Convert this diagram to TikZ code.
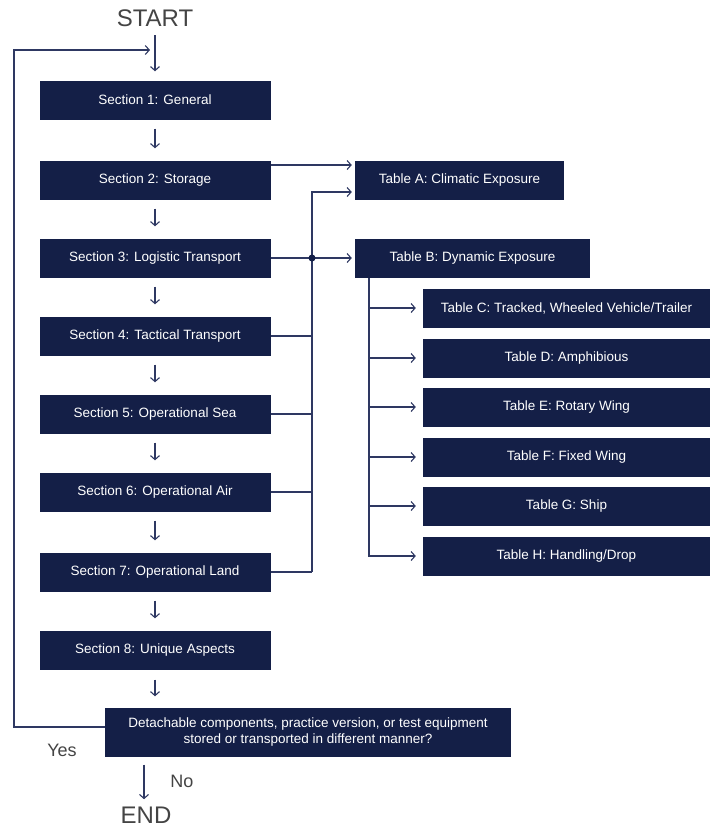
\documentclass[tikz,border=0pt]{standalone}
\usepackage{fontspec}
\setmainfont{Liberation Sans}
\usetikzlibrary{calc,arrows.meta}
\definecolor{navy}{HTML}{141F47}
\definecolor{wire}{HTML}{2E3862}
\definecolor{label}{HTML}{444444}
\tikzset{
  box/.style={fill=navy,text=white,minimum height=39pt,inner sep=2pt,
    font=\fontsize{13.5}{16.5}\selectfont},
  sect/.style={box,minimum width=231pt},
  tbl/.style={box,minimum width=287pt},
  word/.style={text=label,font=\fontsize{18}{21}\selectfont},
  end/.style={text=label,font=\fontsize{24}{28}\selectfont},
  wire/.style={draw=wire,line width=1.1pt},
  flow/.style={wire,-{Straight Barb[length=4pt,width=9pt]}},
}
\begin{document}
\begin{tikzpicture}[x=1pt,y=-1pt]
  \useasboundingbox (0,0) rectangle (716,828);
  \node[end] (start) at (155,18) {START};
  \node[sect] (s1) at (155,100) {Section 1: General};
  \node[sect] (s2) at (155,180) {Section 2: Storage};
  \node[sect] (s3) at (155,258) {Section 3: Logistic Transport};
  \node[sect] (s4) at (155,336) {Section 4: Tactical Transport};
  \node[sect] (s5) at (155,414) {Section 5: Operational Sea};
  \node[sect] (s6) at (155,492) {Section 6: Operational Air};
  \node[sect] (s7) at (155,572) {Section 7: Operational Land};
  \node[sect] (s8) at (155,650) {Section 8: Unique Aspects};
  \node[box,minimum width=406pt,minimum height=49pt,align=center] (dec) at (308,732)
    {Detachable components, practice version, or test equipment\\stored or transported in different manner?};
  \node[end] (stop) at (146,815) {END};
  \node[word] (yes) at (62,750) {Yes};
  \node[word] (no) at (182,781) {No};
  \node[box,minimum width=209pt] (ta) at (459.5,180) {Table A: Climatic Exposure};
  \node[box,minimum width=235pt] (tb) at (472.5,258) {Table B: Dynamic Exposure};
  \node[tbl] (tc) at (566.5,308) {Table C: Tracked, Wheeled Vehicle/Trailer};
  \node[tbl] (td) at (566.5,358) {Table D: Amphibious};
  \node[tbl] (te) at (566.5,407) {Table E: Rotary Wing};
  \node[tbl] (tf) at (566.5,457) {Table F: Fixed Wing};
  \node[tbl] (tg) at (566.5,506) {Table G: Ship};
  \node[tbl] (th) at (566.5,556) {Table H: Handling/Drop};
  \coordinate (jn) at (312,258);
  \coordinate (jtop) at (312,192);
  \coordinate (bt) at (369,278);
  \coordinate (loop) at (14,50);
  % main column
  \draw[flow,shorten <=5pt,shorten >=9pt] (start) -- (s1);
  \foreach \a/\b in {s1/s2,s2/s3,s3/s4,s4/s5,s5/s6,s6/s7,s7/s8}
    \draw[flow,shorten <=9pt,shorten >=12pt] (\a) -- (\b);
  \draw[flow,shorten <=10pt,shorten >=11pt] (s8.south) -- (s8 |- dec.north);
  \draw[flow,shorten <=8pt,shorten >=4pt] ([xshift=-164pt]dec.south) -- ([xshift=-2pt]stop.north);
  % loop back
  \draw[flow] ([yshift=5pt]dec.west) -| (loop) -- ([xshift=-5pt]loop -| start);
  % tables
  \draw[flow] ([yshift=15pt]s2.east) -- ([xshift=-3pt,yshift=15pt]ta.west);
  \draw[flow] (s3.east) -- ([xshift=-3pt]tb.west);
  \foreach \s in {s4,s5,s6,s7}
    \draw[wire] (\s.east) -- (\s.east -| jn);
  \draw[flow] (s7.east -| jn) -- (jtop) -- ([xshift=-3pt]jtop -| ta.west);
  \fill[navy] (jn) circle (3.5pt);
  \foreach \t in {tc,td,te,tf,tg,th}
    \draw[flow] (bt) |- ([xshift=-7pt]\t.west);
\end{tikzpicture}
\end{document}
